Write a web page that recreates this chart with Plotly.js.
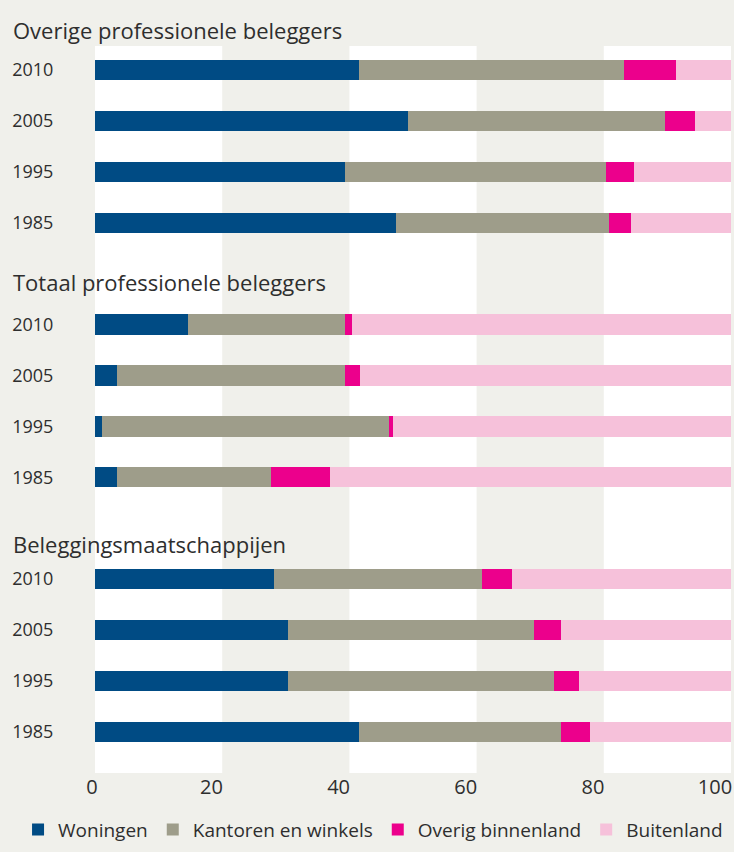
<!DOCTYPE html>
<html>
<head>
<meta charset="utf-8">
<script src="https://cdn.plot.ly/plotly-3.0.1.min.js"></script>
<style>
html,body{margin:0;padding:0;background:#f0f0eb;}
#chart{width:734px;height:852px;}
</style>
</head>
<body>
<div id="chart"></div>
<script>
// ---- data ----
const groupTitles = ['Overige professionele beleggers', 'Totaal professionele beleggers', 'Beleggingsmaatschappijen'];
const years = ['2010', '2005', '1995', '1985'];
const seriesNames = ['Woningen', 'Kantoren en winkels', 'Overig binnenland', 'Buitenland'];
// values per group, in year order 2010, 2005, 1995, 1985
const woningen   = [41.5, 49.2, 39.3, 47.4,   14.7, 3.5, 1.1, 3.5,    28.1, 30.4, 30.4, 41.5];
const kantoren   = [41.7, 40.4, 41.0, 33.4,   24.6, 35.8, 45.2, 24.1, 32.8, 38.7, 41.7, 31.7];
const overig     = [8.1, 4.7, 4.5, 3.5,       1.1, 2.3, 0.6, 9.3,     4.7, 4.1, 4.0, 4.6];
const buitenland = [8.7, 5.7, 15.2, 15.7,     59.6, 58.4, 53.1, 63.1, 34.4, 26.8, 23.9, 22.2];
const xTicks = [0, 20, 40, 60, 80, 100];
const xTickLabels = ['0', '20', '40', '60', '80', '100'];

// ---- layout helpers ----
const nb = n => '\u00a0'.repeat(n);
const xTickPad = [5, 2, 2, 2, 2, 0]; // leading spaces to nudge label positions
const xTickText = xTickLabels.map((t, i) => nb(xTickPad[i]) + t);

const colors = ['#004b84', '#9e9d8a', '#ec008c', '#f6c1da'];
const pos = [];
const tickText = [];
groupTitles.forEach((g, gi) => {
  years.forEach((y, yi) => { pos.push(gi * 5 + yi); tickText.push(y); });
});
const titleY = [1.022, 0.675, 0.3155]; // paper coords

const allSeries = [woningen, kantoren, overig, buitenland];
const traces = allSeries.map((vals, si) => ({
  type: 'bar',
  orientation: 'h',
  name: seriesNames[si],
  x: vals,
  y: pos,
  width: 0.4,
  marker: {color: colors[si], line: {width: 0}},
  hoverinfo: 'skip'
}));

const textColor = '#2e2e2e';
const fontFam = '"Open Sans", "Noto Sans", sans-serif';

const shapes = [[0, 20], [40, 60], [80, 100]].map(b => ({
  type: 'rect', xref: 'x', yref: 'paper', x0: b[0], x1: b[1], y0: 0, y1: 1,
  fillcolor: '#ffffff', line: {width: 0}, layer: 'below'
}));

const annotations = groupTitles.map((t, i) => ({
  text: t, xref: 'paper', yref: 'paper', x: -0.132, y: titleY[i],
  xanchor: 'left', yanchor: 'middle', showarrow: false,
  font: {family: fontFam, size: 22, color: textColor}
}));

const layout = {
  width: 734, height: 852,
  margin: {l: 95, r: 3, t: 46, b: 77},
  paper_bgcolor: '#f0f0eb',
  plot_bgcolor: '#f0f0eb',
  barmode: 'stack',
  bargap: 0,
  showlegend: true,
  legend: {
    orientation: 'h', xref: 'paper', yref: 'paper',
    x: -0.121, xanchor: 'left', y: -0.104, yanchor: 'bottom',
    font: {family: fontFam, size: 19, color: textColor},
    itemwidth: 30, traceorder: 'normal', bgcolor: 'rgba(0,0,0,0)'
  },
  xaxis: {
    range: [0, 100], tickvals: xTicks, ticktext: xTickText,
    showgrid: false, zeroline: false, showline: false,
    ticks: '', ticklabelshift: -16, ticklabeloverflow: 'allow',
    tickfont: {family: fontFam, size: 20, color: textColor},
    fixedrange: true, automargin: false
  },
  yaxis: {
    range: [13.81, -0.474], tickvals: pos, ticktext: tickText,
    showgrid: false, zeroline: false, showline: false,
    ticks: 'outside', ticklen: 37, tickcolor: 'rgba(0,0,0,0)',
    tickfont: {family: fontFam, size: 18, color: textColor},
    fixedrange: true, automargin: false
  },
  shapes: shapes,
  annotations: annotations,
  font: {family: fontFam, color: textColor}
};

Plotly.newPlot('chart', traces, layout, {displayModeBar: false, staticPlot: true});
</script>
</body>
</html>
